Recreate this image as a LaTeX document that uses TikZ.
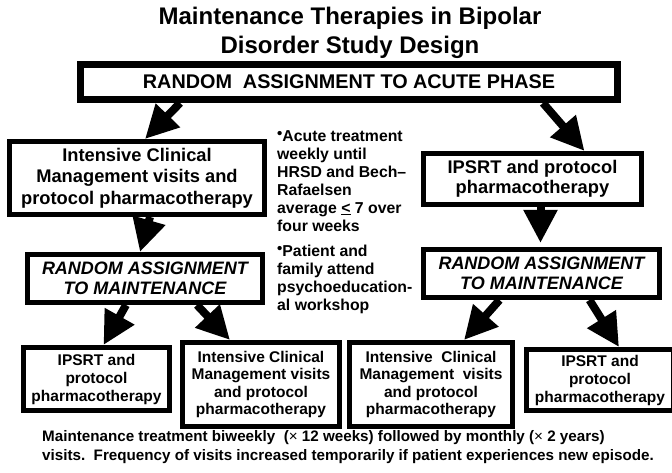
\documentclass[tikz,border=0pt]{standalone}
\usepackage{fontspec}
\setmainfont{Liberation Sans}
\usetikzlibrary{arrows.meta}
\newcommand{\bul}{{\fontsize{15}{15}\selectfont\raisebox{3pt}{•}}}
\begin{document}
\begin{tikzpicture}[x=1pt,y=-1pt,
  box/.style={draw, line width=5pt, inner sep=0pt, align=center, fill=white},
  boxtext/.style={font=\fontsize{18.3}{21.5}\selectfont\bfseries},
  maintext/.style={font=\fontsize{18}{20}\selectfont\bfseries\itshape},
  smalltext/.style={font=\fontsize{15.5}{18}\selectfont\bfseries},
  notetext/.style={inner sep=0pt, align=left, font=\fontsize{15.8}{18}\selectfont\bfseries},
  bigarrow/.style={line width=8pt, -{Triangle[length=33pt,width=32pt]}}]
\useasboundingbox (0,0) rectangle (672,473);
\clip (0,0) rectangle (672,473);
\fill[white] (0,0) rectangle (672,473);

\node[inner sep=0pt, align=center, font=\fontsize{24}{29}\selectfont\bfseries] (title) at (350,32.5)
  {Maintenance Therapies in Bipolar\\Disorder Study Design};

\node[box, line width=7pt, minimum width=537pt, minimum height=35pt,
  font=\fontsize{19.8}{22}\selectfont\bfseries] (top) at (349,82)
  {RANDOM\ \ ASSIGNMENT TO ACUTE PHASE};

\node[box, boxtext, minimum width=255pt, minimum height=73pt] (left) at (137,178)
  {Intensive Clinical\\Management visits and\\protocol pharmacotherapy};
\node[box, font=\fontsize{18.3}{20}\selectfont\bfseries, minimum width=218pt, minimum height=51pt] (right) at (532.5,179)
  {IPSRT and protocol\\pharmacotherapy};

\node[box, maintext, minimum width=235pt, minimum height=48pt] (maintL) at (145,278.5)
  {RANDOM ASSIGNMENT\\TO MAINTENANCE};
\node[box, maintext, minimum width=236pt, minimum height=48pt] (maintR) at (541.5,273.5)
  {RANDOM ASSIGNMENT\\TO MAINTENANCE};

\node[box, smalltext, minimum width=146pt, minimum height=63pt] (b1) at (96.5,379)
  {IPSRT and\\protocol\\pharmacotherapy};
\node[box, smalltext, font=\fontsize{15.5}{17.6}\selectfont\bfseries, minimum width=157pt, minimum height=84pt] (b2) at (261,384.5)
  {Intensive Clinical\\Management visits\\and protocol\\pharmacotherapy};
\node[box, smalltext, font=\fontsize{15.5}{17.6}\selectfont\bfseries, minimum width=163pt, minimum height=84pt] (b3) at (431,384.5)
  {Intensive\ \ Clinical\\Management\ \ visits\\and protocol\\pharmacotherapy};
\node[box, smalltext, minimum width=147pt, minimum height=61pt] (b4) at (600,380)
  {IPSRT and\\protocol\\pharmacotherapy};

\node[notetext, anchor=north west] (note1) at (277,130)
  {\bul Acute treatment\\weekly until\\HRSD and Bech–\\Rafaelsen\\average \underline{<} 7 over\\four weeks};
\node[notetext, anchor=north west] (note2) at (277,245)
  {\bul Patient and\\family attend\\psychoeducation-\\al workshop};

\node[inner sep=0pt, align=left, anchor=west, font=\fontsize{15.2}{19}\selectfont\bfseries] (foot) at (42,447.5)
  {Maintenance treatment biweekly\ \ ({\mdseries ×} 12 weeks) followed by monthly ({\mdseries ×} 2 years)\\
   visits.\ \ Frequency of visits increased temporarily if patient experiences new episode.};

\draw[bigarrow] ([xshift=-169pt]top.south) -- ([xshift=8pt]left.north);
\draw[bigarrow] ([xshift=194pt]top.south) -- ([xshift=52pt]right.north);
\draw[bigarrow] ([xshift=13pt]left.south) -- ([xshift=-5pt]maintL.north);
\draw[bigarrow] ([xshift=8pt]right.south) -- ([xshift=-1pt,yshift=4pt]maintR.north);
\draw[bigarrow] ([xshift=-19pt]maintL.south) -- ([xshift=7pt]b1.north);
\draw[bigarrow] ([xshift=52pt]maintL.south) -- ([xshift=-31pt]b2.north);
\draw[bigarrow] ([xshift=-42pt]maintR.south) -- ([xshift=33pt]b3.north);
\draw[bigarrow] ([xshift=48pt]maintR.south) -- ([xshift=19pt]b4.north);
\end{tikzpicture}
\end{document}
